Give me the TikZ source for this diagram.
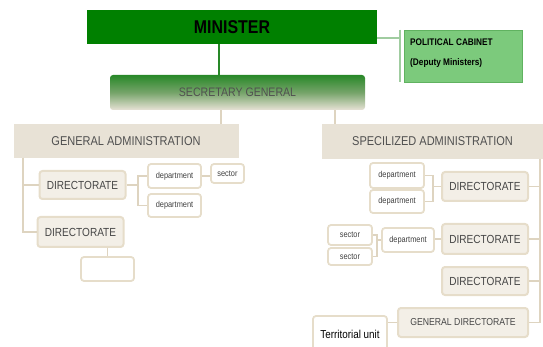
\documentclass[tikz,border=0pt]{standalone}
\usepackage{fontspec}
\setmainfont[FakeStretch=0.86]{Liberation Sans}
\usetikzlibrary{positioning,calc}

\definecolor{ministergreen}{RGB}{0,128,0}
\definecolor{cabgreen}{RGB}{124,202,124}
\definecolor{cabdraw}{RGB}{96,178,96}
\definecolor{cabline}{RGB}{160,204,160}
\definecolor{sgtop}{RGB}{40,136,40}
\definecolor{sgmid}{RGB}{118,164,106}
\definecolor{beigefill}{RGB}{232,226,214}
\definecolor{boxfill}{RGB}{243,239,231}
\definecolor{boxline}{RGB}{230,221,202}
\definecolor{linebeige}{RGB}{222,212,192}
\definecolor{textgray}{RGB}{80,80,80}
\definecolor{dirgray}{RGB}{70,70,70}

\tikzset{
  minister/.style={rectangle, fill=ministergreen, minimum width=290, minimum height=34,
    font=\bfseries\fontsize{18.5}{20}\selectfont},
  cabinet/.style={rectangle, fill=cabgreen, draw=cabdraw, line width=0.6pt,
    minimum width=118, minimum height=52},
  cabtext/.style={anchor=base west, inner sep=0pt, font=\bfseries\fontsize{9.6}{11}\selectfont},
  secgen/.style={rectangle, rounded corners=3pt, top color=sgtop, bottom color=beigefill,
    middle color=sgmid, minimum width=255, minimum height=35, text=textgray,
    font=\fontsize{12.3}{14}\selectfont},
  admin/.style={rectangle, fill=beigefill, text=textgray, minimum height=34,
    font=\fontsize{12.8}{14}\selectfont},
  direct/.style={rectangle, rounded corners=3pt, draw=boxline, line width=2pt, fill=boxfill,
    text=dirgray, minimum width=86, minimum height=28, font=\fontsize{11.7}{13}\selectfont},
  dept/.style={rectangle, rounded corners=3pt, draw=boxline, line width=1.8pt, fill=white,
    text=black!75, inner sep=1pt, font=\fontsize{8.6}{10}\selectfont},
  link/.style={draw=linebeige, line width=1.6pt},
  toplink/.style={draw=sgtop, line width=2.5pt},
  cablink/.style={draw=cabline, line width=1.6pt}
}

\begin{document}
\begin{tikzpicture}[x=1pt,y=-1pt]
    \useasboundingbox (0,0) rectangle (543,347);

    % minister and the cabinet beside it
    \node[minister] (minister) at (232,27) {MINISTER};
    \node[cabinet] (cab) at (463,56) {};
    \node[cabtext] (cabtitle) at (410,46) {POLITICAL CABINET};
    \node[cabtext] (cabsub) at (410,66) {(Deputy Ministers)};

    % secretary general and the two administrations
    \node[secgen] (secgen) at (237.5,92.5) {\raisebox{-3pt}{SECRETARY GENERAL}};
    \node[admin, minimum width=225] (ga) at (126,141) {GENERAL ADMINISTRATION};
    \node[admin, minimum width=221, minimum height=35] (sa) at (432.5,141.5) {SPECILIZED ADMINISTRATION};

    % left branch
    \node[direct] (dir1) at (82.5,185) {DIRECTORATE};
    \node[direct, minimum height=30] (dir2) at (80.5,232) {DIRECTORATE};
    \node[dept, minimum width=53, minimum height=24] (dep1) at (174.5,176) {department};
    \node[dept, minimum width=53, minimum height=23] (dep2) at (174.5,205.5) {department};
    \node[dept, minimum width=33, minimum height=19] (sec1) at (227.5,173.5) {sector};
    \node[dept, minimum width=53, minimum height=24] (empty) at (107.5,269) {};

    % right branch
    \node[direct, minimum height=29] (dirA) at (485,186.5) {DIRECTORATE};
    \node[direct, minimum height=30] (dirB) at (485,239) {DIRECTORATE};
    \node[direct] (dirC) at (485,281) {DIRECTORATE};
    \node[direct, minimum width=130, minimum height=29, font=\fontsize{10.1}{12}\selectfont] (gendir) at (463,322.5) {GENERAL DIRECTORATE};
    \node[dept, minimum width=54, minimum height=25] (depA1) at (397,175.5) {\raisebox{-4pt}{department}};
    \node[dept, minimum width=54, minimum height=23] (depA2) at (397,201.5) {\raisebox{-4pt}{department}};
    \node[dept, minimum width=52, minimum height=24] (depB) at (408,240) {\raisebox{-2pt}{department}};
    \node[dept, minimum width=44, minimum height=20] (secB1) at (350,235) {sector};
    \node[dept, minimum width=44, minimum height=17] (secB2) at (350,256.5) {sector};
    \node[dept, minimum width=74, minimum height=38, text=black, font=\fontsize{11.5}{13}\selectfont] (terr) at (350,335) {\raisebox{2pt}{Territorial unit}};

    % top connectors
    \coordinate (cabjoin) at (400,38);
    \draw[cablink] (minister.east |- cabjoin) -- (cabjoin);
    \draw[cablink] ([xshift=-4]cab.north west) -- ([xshift=-4]cab.south west);
    \draw[toplink] ([xshift=-13]minister.south) -- ([xshift=-13]minister.south |- secgen.north);
    \draw[link] ([xshift=-18]ga.north east) -- ([xshift=-18]ga.north east |- secgen.south);
    \draw[link] ([xshift=13]sa.north west) -- ([xshift=13]sa.north west |- secgen.south);

    % left tree
    \coordinate (gatrunk) at (23,158);
    \draw[link] (gatrunk) |- (dir1.west);
    \draw[link] (gatrunk) |- (dir2.west);
    \coordinate (d1fork) at (138,185);
    \draw[link] (dir1.east) -- (d1fork) |- (dep1.west);
    \draw[link] (d1fork) |- (dep2.west);
    \draw[link] (dep1.east) -- (dep1.east -| sec1.west);
    \draw[link] (empty.north |- dir2.south) -- (empty.north);

    % right tree
    \coordinate (satrunk) at (540,159);
    \draw[link] (satrunk) |- (gendir.east);
    \draw[link] (satrunk |- dirA.east) -- (dirA.east);
    \draw[link] (satrunk |- dirB.east) -- (dirB.east);
    \draw[link] (satrunk |- dirC.east) -- (dirC.east);
    \coordinate (dAfork) at (433,186.5);
    \draw[link] (dirA.west) -- (dAfork) |- (depA1.east);
    \draw[link] (dAfork) |- (depA2.east);
    \draw[link] (dirB.west) -- (dirB.west -| depB.east);
    \coordinate (sBfork) at (377,240);
    \draw[link] (depB.west) -- (sBfork) |- (secB1.east);
    \draw[link] (sBfork) |- (secB2.east);
    \draw[link] (gendir.west) -- (gendir.west -| terr.east);

\end{tikzpicture}
\end{document}
